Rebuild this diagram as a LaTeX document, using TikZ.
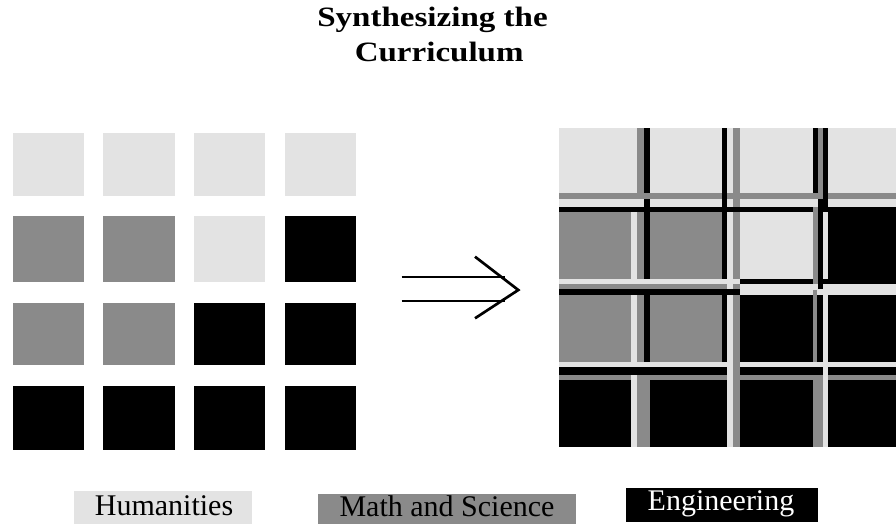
\documentclass[tikz,border=0pt]{standalone}
\usepackage{fontspec}
\setmainfont{Liberation Serif}
\definecolor{cL}{RGB}{227,227,227}
\definecolor{cG}{RGB}{138,138,138}
\tikzset{
  titletext/.style={font=\fontsize{21pt}{25pt}\selectfont\bfseries, inner sep=0pt, anchor=base},
  legtext/.style={font=\fontsize{22.5pt}{26pt}\selectfont, inner sep=0pt, anchor=base},
  arrowline/.style={line width=1.5pt},
  arrowhead/.style={line width=2pt, line join=miter}
}
\begin{document}
\begin{tikzpicture}[x=0.75pt,y=-0.75pt]
\useasboundingbox (0,0) rectangle (896,524);
\fill[white] (0,0) rectangle (896,524);

% title
\node[titletext] (t1) at (432.5,26.7) {\scalebox{1.18}[1]{Synthesizing the}};
\node[titletext] (t2) at (439.2,61.7) {\scalebox{1.18}[1]{Curriculum}};

% left grid
\fill[cL] (12.7,133) rectangle (84,196);
\fill[cL] (103,133) rectangle (175,196);
\fill[cL] (194,133) rectangle (265,196);
\fill[cL] (285,133) rectangle (356,196);
\fill[cG] (12.7,216) rectangle (84,282);
\fill[cG] (103,216) rectangle (175,282);
\fill[cL] (194,216) rectangle (265,282);
\fill[black] (285,216) rectangle (356,282);
\fill[cG] (12.7,303) rectangle (84,365);
\fill[cG] (103,303) rectangle (175,365);
\fill[black] (194,303) rectangle (265,365);
\fill[black] (285,303) rectangle (356,365);
\fill[black] (12.7,386) rectangle (84,450);
\fill[black] (103,386) rectangle (175,450);
\fill[black] (194,386) rectangle (265,450);
\fill[black] (285,386) rectangle (356,450);

% arrow
\coordinate (a1s) at (401.7,276.7);
\coordinate (a1e) at (505,276.7);
\coordinate (a2s) at (401.7,301);
\coordinate (a2e) at (505,301);
\coordinate (h1) at (475,256.7);
\coordinate (tip) at (518.3,290);
\coordinate (h2) at (475,318.3);
\draw[arrowline] (a1s) -- (a1e);
\draw[arrowline] (a2s) -- (a2e);
\draw[arrowhead] (h1) -- (tip) -- (h2);

% right grid: row backgrounds
\fill[cL] (559.3,127.7) rectangle (896,193.3);
\fill[cG] (559.3,193.3) rectangle (896,199);
\fill[cL] (559.3,199) rectangle (896,206.7);
\fill[black] (559.3,206.7) rectangle (896,212.3);
\fill[cG] (559.3,212.3) rectangle (726.7,279);
\fill[cL] (726.7,212.3) rectangle (827.7,279);
\fill[black] (827.7,206.7) rectangle (896,284.3);
\fill[cL] (559.3,279) rectangle (740,284.3);
\fill[cG] (559.3,284.3) rectangle (740,289);
\fill[black] (559.3,289) rectangle (740,295);
\fill[black] (740,279) rectangle (827.7,284.3);
\fill[cL] (740,284.3) rectangle (896,295);
\fill[cG] (559.3,295) rectangle (740,361.7);
\fill[black] (740,295) rectangle (896,361.7);
\fill[cL] (559.3,361.7) rectangle (896,367.3);
\fill[black] (559.3,367.3) rectangle (896,375);
\fill[cG] (559.3,375) rectangle (896,380);
\fill[black] (559.3,380) rectangle (896,446.7);

% col1/col2 verticals
\fill[cG] (636.7,127.7) rectangle (644,199);
\fill[black] (644,127.7) rectangle (650,193.3);
\fill[cL] (630.7,212.3) rectangle (636.7,284.3);
\fill[black] (644,199) rectangle (650,279);
\fill[cL] (630.7,295) rectangle (636.7,367.3);
\fill[black] (644,295) rectangle (650,361.7);
\fill[cL] (630.7,375) rectangle (636.7,446.7);
\fill[cG] (636.7,375) rectangle (650,446.7);

% col2/col3 verticals
\fill[black] (721.7,127.7) rectangle (726.7,279);
\fill[black] (721.7,295) rectangle (726.7,361.7);
\fill[cL] (726.7,212.3) rectangle (732.7,289);
\fill[cL] (726.7,295) rectangle (732.7,446.7);
\fill[cG] (732.7,127.7) rectangle (740,206.7);
\fill[cG] (732.7,212.3) rectangle (740,279);
\fill[cG] (732.7,295) rectangle (740,446.7);

% col3/col4 verticals
\fill[black] (812.7,127.7) rectangle (817.7,193.3);
\fill[cG] (817.7,127.7) rectangle (822.7,193.3);
\fill[black] (822.7,127.7) rectangle (827.7,212.3);
\fill[black] (817.7,199) rectangle (822.7,212.3);
\fill[cG] (812.7,206.7) rectangle (817.7,284.3);
\fill[black] (817.7,212.3) rectangle (822.7,289);
\fill[cL] (822.7,212.3) rectangle (827.7,279);
\fill[cG] (812.7,290) rectangle (816.5,361.7);
\fill[cL] (822.7,284.3) rectangle (827.7,446.7);
\fill[cG] (812.7,375) rectangle (822.7,446.7);

% legend
\fill[cL] (74,491) rectangle (252,524);
\fill[cG] (318,494) rectangle (576,524);
\fill[black] (626,488) rectangle (818,522);
\node[legtext] (hum) at (164,515) {Humanities};
\node[legtext] (mas) at (447,516) {Math and Science};
\node[legtext, text=white] (eng) at (721,510) {Engineering};
\end{tikzpicture}
\end{document}
